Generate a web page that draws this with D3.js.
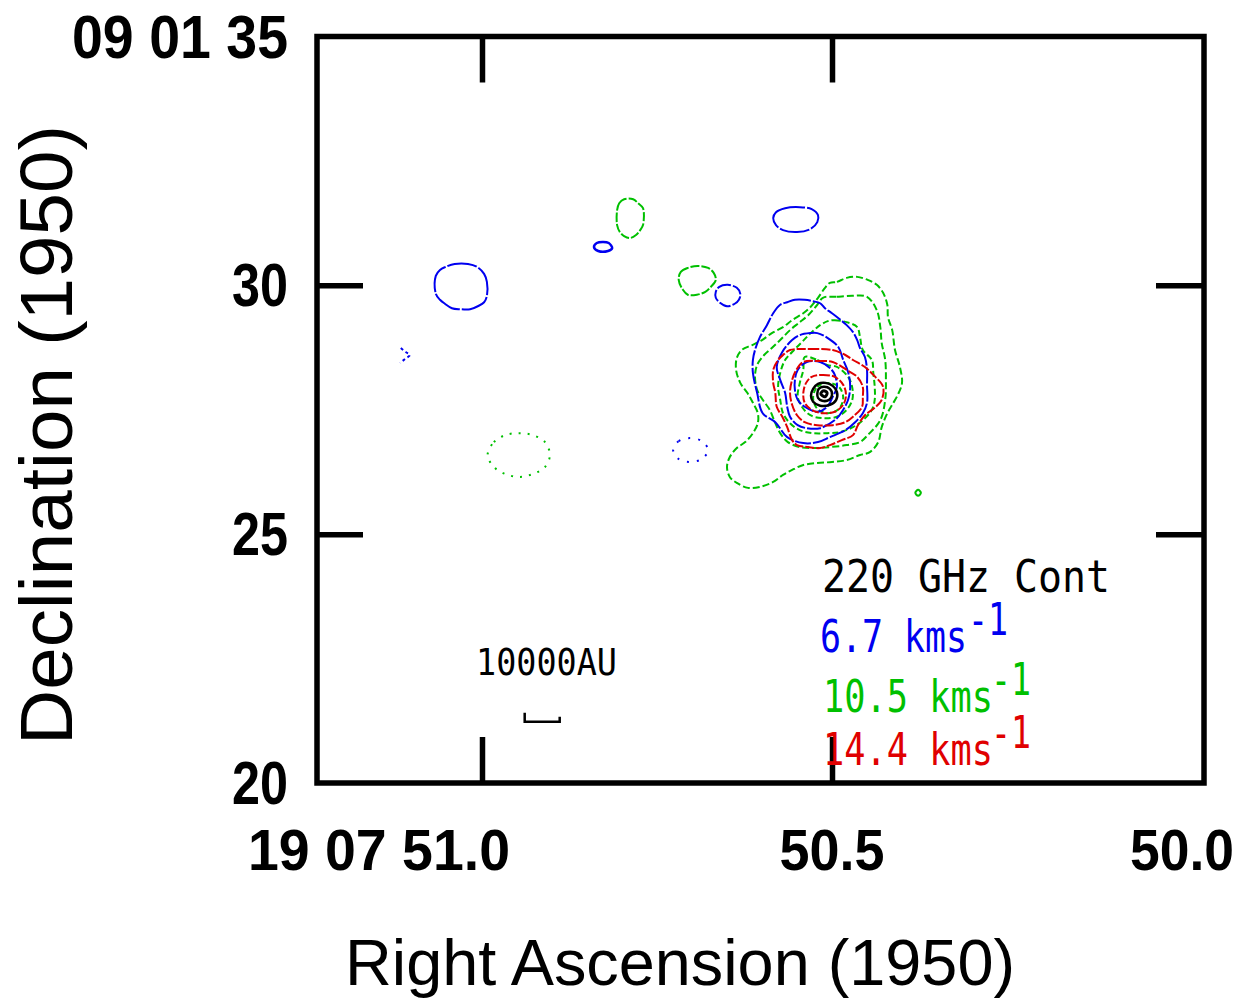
<!DOCTYPE html>
<html><head><meta charset="utf-8">
<script src="https://cdn.jsdelivr.net/npm/d3@7"></script>
<style>html,body{margin:0;padding:0;background:#fff;} svg{display:block;}</style>
</head><body><svg id="c" width="1245" height="1004"></svg>
<script>
// ---------- data ----------
const raDomain = [51.2357, 49.9686];          // RA seconds (19h07m), frame edges
const decDomain = [20, 35];                   // Dec arcsec (09d01m), frame edges
const raTicks = [51.0, 50.5, 50.0];
const raTickLabels = ["19 07 51.0", "50.5", "50.0"];
const raInnerTicks = [51.0, 50.5];
const decTicks = [35, 30, 25, 20];
const decTickLabels = ["09 01 35", "30", "25", "20"];
const decInnerTicks = [30, 25];

const legendLabels = ["220 GHz Cont", "6.7 kms", "10.5 kms", "14.4 kms"];
const legendSup = ["", "-1", "-1", "-1"];
const legendColors = ["#000000", "#0000f0", "#00c000", "#e00000"];

const scaleBarLabel = "10000AU";
const scaleBarRA = [50.939, 50.889];
const scaleBarDec = [21.23, 21.41];

// 6.7 km/s (blue) contours
const blueA = [[51.066,30.19],[51.066,29.83],[51.060,29.71],[51.053,29.63],[51.043,29.54],[51.031,29.52],[51.017,29.52],[51.006,29.58],[50.997,29.66],[50.993,29.79],[50.993,30.07],[50.997,30.23],[51.007,30.37],[51.020,30.43],[51.039,30.43],[51.052,30.37],[51.060,30.31]];
const blueB = [[50.840,30.77],[50.836,30.85],[50.827,30.87],[50.819,30.85],[50.814,30.75],[50.820,30.69],[50.834,30.69]];
const blueC = [[50.584,31.35],[50.580,31.47],[50.567,31.55],[50.546,31.57],[50.529,31.53],[50.520,31.41],[50.521,31.27],[50.531,31.13],[50.550,31.07],[50.570,31.11],[50.580,31.21]];
const blueD = [[50.666,29.87],[50.661,29.97],[50.649,30.01],[50.636,29.95],[50.631,29.83],[50.633,29.71],[50.639,29.63],[50.650,29.58],[50.660,29.65],[50.666,29.75]];
const blueE = [[51.116,28.74],[51.109,28.66],[51.103,28.60],[51.110,28.52],[51.117,28.44]];
const blueF = [[50.727,26.69],[50.719,26.87],[50.703,26.93],[50.686,26.87],[50.677,26.69],[50.686,26.51],[50.703,26.45],[50.719,26.51]];
const blue1 = [[50.564,29.66],[50.553,29.71],[50.539,29.71],[50.527,29.68],[50.517,29.64],[50.510,29.54],[50.500,29.44],[50.489,29.32],[50.479,29.20],[50.470,29.06],[50.464,28.90],[50.460,28.74],[50.453,28.56],[50.450,28.30],[50.450,28.00],[50.450,27.64],[50.456,27.43],[50.467,27.25],[50.481,27.09],[50.503,26.95],[50.520,26.85],[50.541,26.83],[50.564,26.95],[50.581,27.25],[50.599,27.43],[50.607,27.84],[50.613,28.24],[50.613,28.50],[50.610,28.70],[50.603,28.96],[50.593,29.20],[50.584,29.44],[50.574,29.61]];
const blue2 = [[50.546,29.00],[50.531,29.04],[50.521,29.04],[50.506,28.94],[50.491,28.76],[50.484,28.50],[50.477,28.26],[50.474,27.96],[50.477,27.70],[50.484,27.50],[50.493,27.33],[50.517,27.13],[50.536,27.13],[50.549,27.19],[50.560,27.36],[50.564,27.56],[50.567,27.84],[50.574,28.10],[50.579,28.36],[50.571,28.66],[50.557,28.90]];
const blue3 = [[50.536,28.46],[50.517,28.46],[50.503,28.34],[50.496,28.20],[50.493,27.96],[50.499,27.76],[50.507,27.56],[50.521,27.46],[50.539,27.56],[50.549,27.70],[50.553,27.90],[50.553,28.10],[50.549,28.30]];

// 10.5 km/s (green) contours
const greenA = [[50.807,31.51],[50.804,31.65],[50.797,31.73],[50.784,31.73],[50.777,31.65],[50.770,31.55],[50.770,31.21],[50.774,31.11],[50.780,31.01],[50.789,30.95],[50.797,30.99],[50.803,31.07],[50.807,31.21]];
const greenB = [[50.719,30.11],[50.716,30.27],[50.706,30.35],[50.692,30.39],[50.677,30.35],[50.669,30.25],[50.666,30.11],[50.673,29.97],[50.681,29.87],[50.693,29.81],[50.706,29.81],[50.713,29.91]];
const greenC = [[50.992,26.59],[50.983,26.85],[50.967,26.99],[50.947,27.03],[50.927,26.99],[50.910,26.85],[50.903,26.59],[50.910,26.35],[50.927,26.21],[50.947,26.15],[50.967,26.21],[50.983,26.35]];
const greenD = [[50.381,25.83],[50.377,25.89],[50.373,25.83],[50.377,25.77]];
const green1 = [[50.503,30.05],[50.493,30.07],[50.479,30.15],[50.464,30.17],[50.449,30.11],[50.436,30.01],[50.427,29.85],[50.421,29.61],[50.420,29.36],[50.414,29.10],[50.410,28.70],[50.403,28.36],[50.400,28.04],[50.406,27.80],[50.414,27.60],[50.421,27.43],[50.429,27.15],[50.434,26.85],[50.446,26.65],[50.460,26.59],[50.479,26.49],[50.500,26.45],[50.521,26.43],[50.541,26.39],[50.557,26.29],[50.570,26.19],[50.584,26.05],[50.603,25.95],[50.620,25.93],[50.636,26.03],[50.646,26.15],[50.650,26.35],[50.646,26.55],[50.636,26.73],[50.624,26.85],[50.613,27.03],[50.606,27.23],[50.606,27.43],[50.613,27.64],[50.621,27.84],[50.631,28.04],[50.637,28.30],[50.636,28.54],[50.629,28.70],[50.614,28.80],[50.600,28.90],[50.586,29.04],[50.570,29.16],[50.557,29.30],[50.541,29.44],[50.531,29.56],[50.520,29.75],[50.510,29.95]];
const green2 = [[50.513,29.75],[50.493,29.77],[50.471,29.79],[50.450,29.77],[50.436,29.50],[50.431,29.16],[50.429,28.84],[50.424,28.50],[50.423,28.10],[50.424,27.70],[50.431,27.29],[50.449,26.99],[50.460,26.85],[50.479,26.79],[50.503,26.75],[50.527,26.73],[50.546,26.75],[50.563,26.85],[50.574,27.03],[50.581,27.23],[50.589,27.50],[50.599,27.70],[50.607,27.90],[50.610,28.16],[50.607,28.40],[50.597,28.60],[50.586,28.74],[50.574,28.90],[50.560,29.10],[50.546,29.26],[50.534,29.40],[50.521,29.61]];
const green3 = [[50.506,29.28],[50.496,29.30],[50.479,29.26],[50.464,29.16],[50.460,28.96],[50.456,28.70],[50.443,28.50],[50.441,28.24],[50.439,27.96],[50.439,27.70],[50.443,27.50],[50.456,27.29],[50.470,27.15],[50.489,27.05],[50.507,27.03],[50.527,27.03],[50.546,27.09],[50.560,27.23],[50.570,27.43],[50.574,27.70],[50.577,27.96],[50.574,28.24],[50.567,28.50],[50.557,28.66],[50.543,28.86],[50.529,29.06],[50.517,29.20]];
const green4 = [[50.539,28.56],[50.521,28.50],[50.507,28.40],[50.493,28.36],[50.477,28.16],[50.471,27.94],[50.471,27.70],[50.479,27.50],[50.493,27.36],[50.513,27.33],[50.531,27.39],[50.543,27.56],[50.549,27.76],[50.546,28.04],[50.541,28.30]];
const green5 = [[50.527,27.74],[50.521,27.96],[50.506,28.04],[50.490,27.96],[50.484,27.74],[50.490,27.52],[50.506,27.43],[50.521,27.52]];

// 14.4 km/s (red) contours
const red1 = [[50.560,28.70],[50.531,28.72],[50.499,28.70],[50.481,28.60],[50.470,28.50],[50.453,28.36],[50.441,28.20],[50.427,27.96],[50.429,27.70],[50.439,27.54],[50.453,27.39],[50.463,27.19],[50.470,26.99],[50.486,26.89],[50.503,26.79],[50.517,26.73],[50.534,26.75],[50.550,26.79],[50.557,26.89],[50.564,27.15],[50.571,27.36],[50.579,27.56],[50.581,27.84],[50.584,28.04],[50.584,28.30],[50.577,28.50],[50.570,28.60]];
const red2 = [[50.541,28.46],[50.520,28.48],[50.499,28.46],[50.479,28.30],[50.464,28.16],[50.456,27.96],[50.456,27.76],[50.457,27.56],[50.470,27.36],[50.481,27.25],[50.499,27.19],[50.521,27.19],[50.539,27.25],[50.550,27.39],[50.557,27.60],[50.560,27.84],[50.557,28.10],[50.551,28.30]];
const red3 = [[50.529,28.16],[50.513,28.20],[50.496,28.16],[50.484,28.00],[50.480,27.80],[50.484,27.60],[50.496,27.46],[50.513,27.43],[50.529,27.50],[50.539,27.64],[50.541,27.84],[50.537,28.04]];

// 220 GHz continuum (black) contours
const cont1 = [[50.530,27.78],[50.527,27.92],[50.520,28.02],[50.509,28.04],[50.499,27.98],[50.493,27.86],[50.494,27.70],[50.503,27.60],[50.517,27.58],[50.527,27.66]];
const cont2 = [[50.521,27.82],[50.519,27.92],[50.512,27.96],[50.503,27.92],[50.500,27.80],[50.504,27.70],[50.514,27.68],[50.520,27.74]];
const cont3 = [[50.516,27.82],[50.512,27.88],[50.507,27.84],[50.510,27.76]];

// ---------- drawing ----------
const svg = d3.select("#c");
const x = d3.scaleLinear().domain(raDomain).range([317, 1204]);
const y = d3.scaleLinear().domain(decDomain).range([783, 36.5]);

const BLUE = legendColors[1], GREEN = legendColors[2], RED = legendColors[3], BLACK = legendColors[0];

const closedLine = d3.line().x(d => x(d[0])).y(d => y(d[1])).curve(d3.curveCatmullRomClosed.alpha(0.5));
const openLine = d3.line().x(d => x(d[0])).y(d => y(d[1])).curve(d3.curveCatmullRom.alpha(0.5));

const layers = [
  {data: greenA, color: GREEN, dash: "9,2", closed: true, w: 2},
  {data: greenB, color: GREEN, dash: "9,2", closed: true, w: 2},
  {data: greenC, color: GREEN, dash: "2,7", closed: true, w: 2},
  {data: greenD, color: GREEN, dash: null, closed: true, w: 2},
  {data: green1, color: GREEN, dash: "7,3", closed: true, w: 2},
  {data: green2, color: GREEN, dash: "7,3", closed: true, w: 2},
  {data: green3, color: GREEN, dash: "6,3", closed: true, w: 2},
  {data: green4, color: GREEN, dash: "6,3", closed: true, w: 2},
  {data: green5, color: GREEN, dash: "5,3", closed: true, w: 2},
  {data: blueA, color: BLUE, dash: "30,2", closed: true, w: 2},
  {data: blueB, color: BLUE, dash: null, closed: true, w: 2.5},
  {data: blueC, color: BLUE, dash: "30,2", closed: true, w: 2},
  {data: blueD, color: BLUE, dash: "12,2", closed: true, w: 2},
  {data: blueE, color: BLUE, dash: "3,3", closed: false, w: 2},
  {data: blueF, color: BLUE, dash: "2,8", closed: true, w: 2},
  {data: blue1, color: BLUE, dash: "16,2", closed: true, w: 2},
  {data: blue2, color: BLUE, dash: "14,2", closed: true, w: 2},
  {data: blue3, color: BLUE, dash: "12,2", closed: true, w: 2},
  {data: red1, color: RED, dash: "9,2", closed: true, w: 2},
  {data: red2, color: RED, dash: "9,2", closed: true, w: 2},
  {data: red3, color: RED, dash: "7,2", closed: true, w: 2},
  {data: cont1, color: BLACK, dash: null, closed: true, w: 2.5},
  {data: cont2, color: BLACK, dash: null, closed: true, w: 2.5},
  {data: cont3, color: BLACK, dash: null, closed: true, w: 3}
];

const g = svg.append("g");
g.selectAll("path.ct").data(layers).join("path")
  .attr("class", "ct")
  .attr("d", d => (d.closed ? closedLine : openLine)(d.data))
  .attr("fill", "none")
  .attr("stroke", d => d.color)
  .attr("stroke-width", d => d.w)
  .attr("stroke-dasharray", d => d.dash);

// frame
svg.append("rect")
  .attr("x", x(raDomain[0])).attr("y", y(decDomain[1]))
  .attr("width", x(raDomain[1]) - x(raDomain[0]))
  .attr("height", y(decDomain[0]) - y(decDomain[1]))
  .attr("fill", "none").attr("stroke", "#000").attr("stroke-width", 5.5);

// inward ticks
function styleAxis(sel) {
  sel.select(".domain").remove();
  sel.selectAll(".tick line").attr("stroke", "#000").attr("stroke-width", 5.5);
  sel.selectAll(".tick text").remove();
}
svg.append("g").attr("transform", `translate(0,${y(decDomain[1])})`)
  .call(d3.axisTop(x).tickValues(raInnerTicks).tickSize(-46).tickFormat("")).call(styleAxis);
svg.append("g").attr("transform", `translate(0,${y(decDomain[0])})`)
  .call(d3.axisBottom(x).tickValues(raInnerTicks).tickSize(-46).tickFormat("")).call(styleAxis);
svg.append("g").attr("transform", `translate(${x(raDomain[0])},0)`)
  .call(d3.axisLeft(y).tickValues(decInnerTicks).tickSize(-46).tickFormat("")).call(styleAxis);
svg.append("g").attr("transform", `translate(${x(raDomain[1])},0)`)
  .call(d3.axisRight(y).tickValues(decInnerTicks).tickSize(-48).tickFormat("")).call(styleAxis);

// tick labels
const tickFont = "'Liberation Sans', Arial, sans-serif";
const decLabelWidths = [216, 56, 56, 56];
svg.selectAll("text.dl").data(decTicks).join("text")
  .attr("class", "dl")
  .attr("x", 288)
  .attr("y", d => y(d) + 21)
  .attr("text-anchor", "end")
  .attr("font-family", tickFont).attr("font-weight", "bold").attr("font-size", 62)
  .attr("textLength", (d, i) => decLabelWidths[i]).attr("lengthAdjust", "spacingAndGlyphs")
  .text((d, i) => decTickLabels[i]);

const raLabelWidths = [262, 105, 104];
svg.selectAll("text.rl").data(raTicks).join("text")
  .attr("class", "rl")
  .attr("x", (d, i) => i === 0 ? x(d) + 28 : x(d))
  .attr("y", 870)
  .attr("text-anchor", (d, i) => i === 0 ? "end" : "middle")
  .attr("font-family", tickFont).attr("font-weight", "bold").attr("font-size", 58)
  .attr("textLength", (d, i) => raLabelWidths[i]).attr("lengthAdjust", "spacingAndGlyphs")
  .text((d, i) => raTickLabels[i]);

// axis titles
svg.append("text")
  .attr("x", 680).attr("y", 985)
  .attr("text-anchor", "middle")
  .attr("font-family", tickFont).attr("font-size", 64)
  .attr("textLength", 670).attr("lengthAdjust", "spacingAndGlyphs")
  .text("Right Ascension (1950)");
svg.append("text")
  .attr("transform", "translate(72,435) rotate(-90)")
  .attr("text-anchor", "middle")
  .attr("font-family", tickFont).attr("font-size", 74)
  .attr("textLength", 620).attr("lengthAdjust", "spacingAndGlyphs")
  .text("Declination (1950)");

// legend (one text per entry; superscript as a raised tspan)
const legFont = "'DejaVu Sans Mono', monospace";
const legX = [822, 820, 823, 823];
const legY = [592, 652, 712, 765];
const legW = [288, 147, 170, 170];
const supX = [0, 968, 991, 991];
const lg = svg.selectAll("text.lg").data(legendLabels).join("text")
  .attr("class", "lg")
  .attr("x", (d, i) => legX[i]).attr("y", (d, i) => legY[i])
  .attr("font-family", legFont).attr("font-size", 44)
  .attr("fill", (d, i) => legendColors[i]);
lg.append("tspan")
  .attr("textLength", (d, i) => legW[i]).attr("lengthAdjust", "spacingAndGlyphs")
  .text(d => d);
lg.filter((d, i) => legendSup[i]).append("tspan")
  .attr("x", (d, i, n) => supX[legendLabels.indexOf(d)])
  .attr("dy", -17)
  .attr("textLength", 40).attr("lengthAdjust", "spacingAndGlyphs")
  .text(d => legendSup[legendLabels.indexOf(d)]);

// scale bar
svg.append("text")
  .attr("x", 476).attr("y", 675)
  .attr("font-family", legFont).attr("font-size", 37)
  .attr("textLength", 141).attr("lengthAdjust", "spacingAndGlyphs")
  .text(scaleBarLabel);
svg.append("path")
  .attr("d", `M${x(scaleBarRA[0])},${y(scaleBarDec[1])}V${y(scaleBarDec[0])}H${x(scaleBarRA[1])}V${y(scaleBarDec[0]) - 5}`)
  .attr("fill", "none").attr("stroke", "#000").attr("stroke-width", 2.5);
</script>
</body></html>
